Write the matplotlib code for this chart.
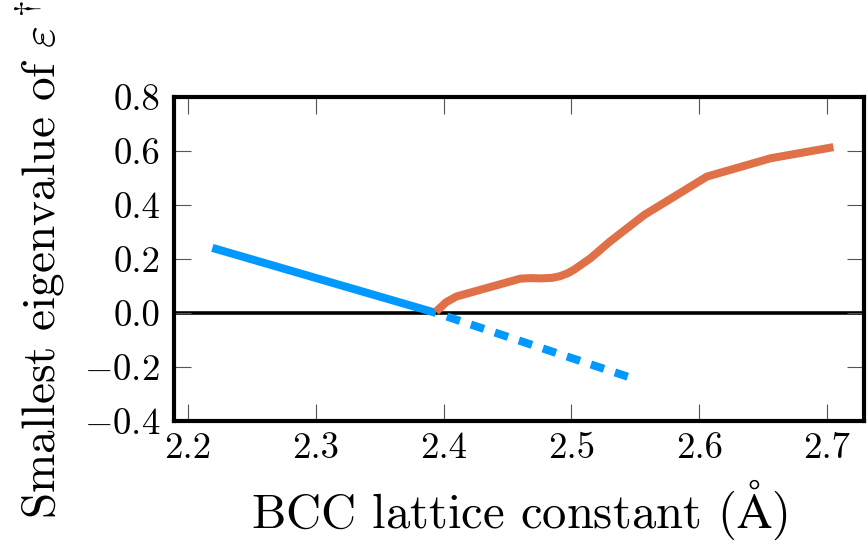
import matplotlib
matplotlib.use('Agg')
import matplotlib.pyplot as plt

# data
blue_x = [2.219, 2.394]
blue_y = [0.241, 0.0]
blue_ext_x = [2.394, 2.544]
blue_ext_y = [0.0, -0.236]
orange_x = [2.394, 2.402, 2.410, 2.460, 2.468, 2.476, 2.485, 2.491, 2.497, 2.502, 2.515,
            2.530, 2.557, 2.606, 2.656, 2.705]
orange_y = [0.005, 0.040, 0.061, 0.127, 0.129, 0.128, 0.130, 0.136, 0.147, 0.160, 0.203,
            0.264, 0.363, 0.505, 0.573, 0.614]
xticks = [2.2, 2.3, 2.4, 2.5, 2.6, 2.7]
yticks = [-0.4, -0.2, 0.0, 0.2, 0.4, 0.6, 0.8]

plt.rcParams['font.family'] = 'serif'
plt.rcParams['font.serif'] = ['cmr10']
plt.rcParams['mathtext.fontset'] = 'cm'
plt.rcParams['axes.formatter.use_mathtext'] = True

fig = plt.figure(figsize=(8.68, 5.46), dpi=100)
ax = fig.add_axes([0.2005, 0.229, 0.795, 0.5935])

ax.axhline(0, color='black', lw=2.6, zorder=1)
ax.plot(blue_x, blue_y, color='#0099ff', lw=5.8, solid_capstyle='butt', zorder=3)
ax.plot(blue_ext_x, blue_ext_y, color='#0099ff', lw=5.8, linestyle=(1.72, (1.72, 1.42)),
        dash_capstyle='butt', zorder=3)
ax.plot(orange_x, orange_y, color='#e07048', lw=5.8, solid_capstyle='butt',
        solid_joinstyle='round', zorder=3)

ax.set_xlim(2.189, 2.729)
ax.set_ylim(-0.4, 0.8)
ax.set_xticks(xticks)
ax.set_yticks(yticks)
ax.set_xticklabels(['%.1f' % v for v in xticks])
ax.set_yticklabels([('$-$%.1f' % abs(v)) if v < 0 else '%.1f' % v for v in yticks])

ax.tick_params(direction='in', length=12, width=0.8, color='#555555',
               top=True, right=True, labelsize=26.5)
ax.tick_params(axis='x', pad=8)
ax.tick_params(axis='y', pad=10)
for s in ax.spines.values():
    s.set_linewidth(3)

ax.set_xlabel(r'BCC lattice constant ($\mathrm{\AA}$)', fontsize=35, labelpad=9)
ax.set_ylabel(r'Smallest eigenvalue of $\varepsilon^\dagger$', fontsize=34, labelpad=12)

fig.savefig('out.png', dpi=100)
